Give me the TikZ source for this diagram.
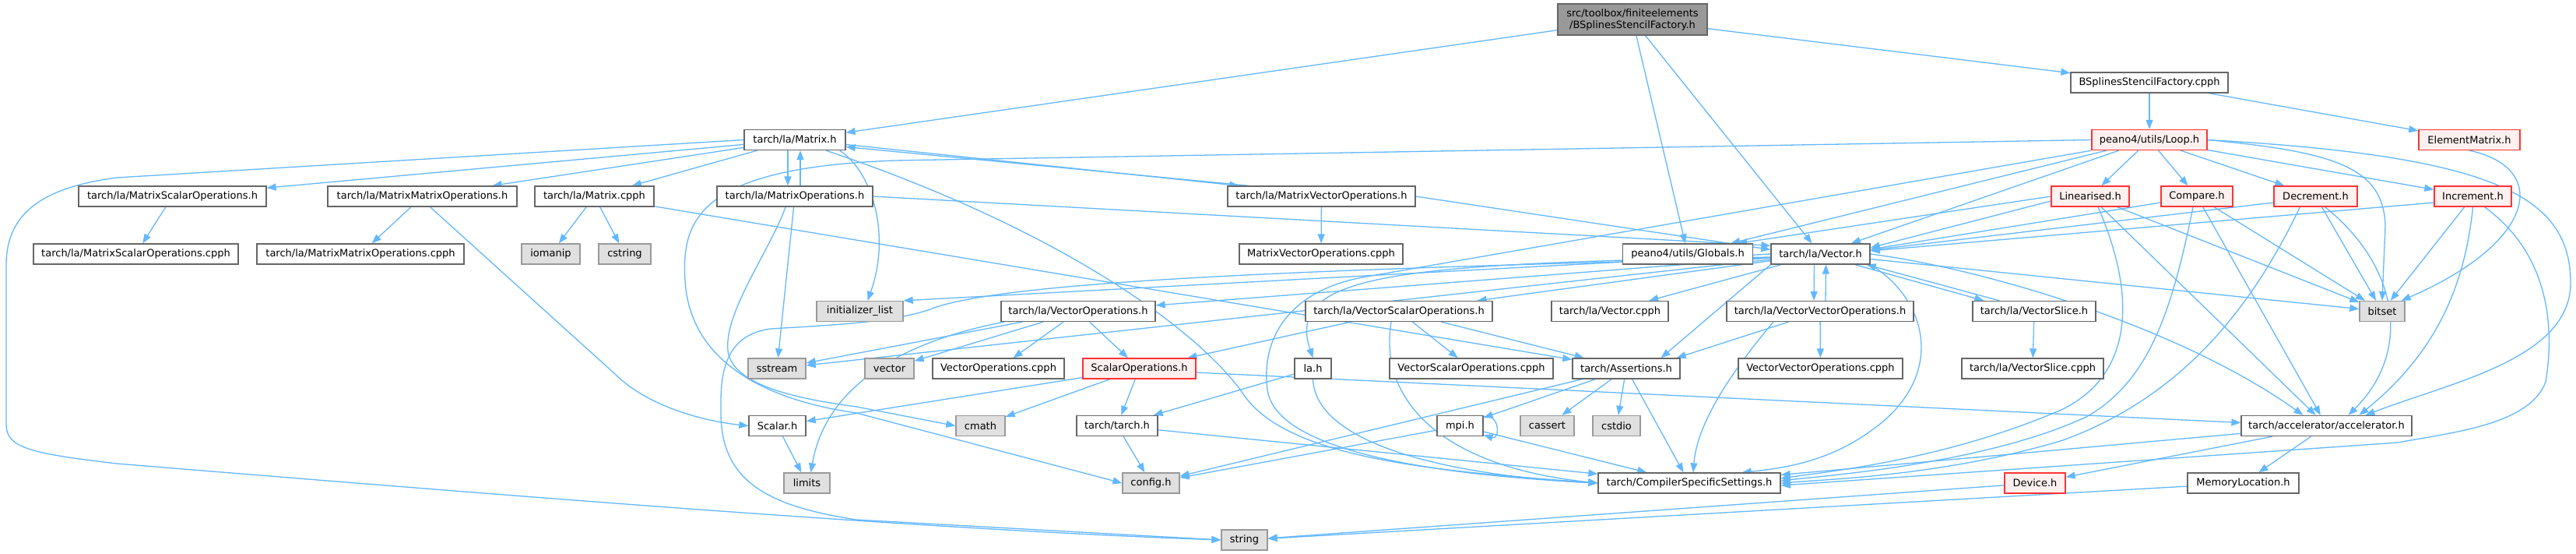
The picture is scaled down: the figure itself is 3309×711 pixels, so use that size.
\documentclass[tikz,border=0pt]{standalone}
\usepackage{fontspec}
\setmainfont{DejaVu Sans}
\usetikzlibrary{arrows.meta}

\definecolor{edgeblue}{HTML}{63B8FF}
\definecolor{boxline}{HTML}{666666}
\definecolor{sysline}{HTML}{999999}
\definecolor{sysfill}{HTML}{E0E0E0}
\definecolor{redline}{HTML}{FF3333}
\definecolor{redfill}{HTML}{FFF0F0}
\definecolor{rootfill}{HTML}{999999}

\pgfdeclarelayer{edges}
\pgfsetlayers{edges,main}

\tikzset{
  file/.style={draw=boxline, fill=white, line width=1.3pt, minimum height=26pt,
    inner xsep=0pt, inner ysep=2pt, font=\fontsize{13}{15}\selectfont},
  sys/.style={file, draw=sysline, fill=sysfill},
  trunc/.style={file, draw=redline, fill=redfill},
  root/.style={file, fill=rootfill, minimum height=40pt, align=center},
  dep/.style={draw=edgeblue, line width=1.3pt, -{Triangle[length=12pt,width=9pt]}}
}

\begin{document}
\begin{tikzpicture}[x=1pt,y=-1pt]
  \useasboundingbox (0,0) rectangle (3309,711);

  % files, row by row
  \node[root, minimum width=192pt] (bsf) at (2097,25) {src/toolbox/finiteelements\\/BSplinesStencilFactory.h};
  \node[file, minimum width=202pt] (bsfc) at (2761,106) {BSplinesStencilFactory.cpph};

  \node[file, minimum width=130pt] (matrix) at (1021,179.5) {tarch/la/Matrix.h};
  \node[trunc, minimum width=148pt] (loop) at (2761,179.5) {peano4/utils/Loop.h};
  \node[trunc, minimum width=130pt] (elem) at (3172,179.5) {ElementMatrix.h};

  \node[file, minimum width=241pt] (mso) at (221.5,252) {tarch/la/MatrixScalarOperations.h};
  \node[file, minimum width=243pt] (mmo) at (542.5,252) {tarch/la/MatrixMatrixOperations.h};
  \node[file, minimum width=153pt] (mcpph) at (763.5,252) {tarch/la/Matrix.cpph};
  \node[file, minimum width=200pt] (mo) at (1021,252) {tarch/la/MatrixOperations.h};
  \node[file, minimum width=241pt] (mvo) at (1697.5,252) {tarch/la/MatrixVectorOperations.h};
  \node[trunc, minimum width=100pt] (lin) at (2685,252) {Linearised.h};
  \node[trunc, minimum width=92pt] (cmp) at (2822,252) {Compare.h};
  \node[trunc, minimum width=107pt] (dec) at (2974.5,252) {Decrement.h};
  \node[trunc, minimum width=99pt] (inc) at (3176.5,252) {Increment.h};

  \node[file, minimum width=263pt] (msoc) at (174.5,326) {tarch/la/MatrixScalarOperations.cpph};
  \node[file, minimum width=266pt] (mmoc) at (463,326) {tarch/la/MatrixMatrixOperations.cpph};
  \node[sys, minimum width=75pt] (iomanip) at (707.5,326) {iomanip};
  \node[sys, minimum width=67pt] (cstring) at (802.5,326) {cstring};
  \node[file, minimum width=210pt] (mvoc) at (1697,326) {MatrixVectorOperations.cpph};
  \node[file, minimum width=167pt] (globals) at (2168,326) {peano4/utils/Globals.h};
  \node[file, minimum width=127pt] (vector) at (2338.5,326) {tarch/la/Vector.h};

  \node[sys, minimum width=111pt] (initlist) at (1104.5,399.5) {initializer\_list};
  \node[file, minimum width=198pt] (vo) at (1385,399.5) {tarch/la/VectorOperations.h};
  \node[file, minimum width=240pt] (vso) at (1797,399.5) {tarch/la/VectorScalarOperations.h};
  \node[file, minimum width=150pt] (vcpph) at (2068,399.5) {tarch/la/Vector.cpph};
  \node[file, minimum width=240pt] (vvo) at (2338,399.5) {tarch/la/VectorVectorOperations.h};
  \node[file, minimum width=158pt] (vslice) at (2613,399.5) {tarch/la/VectorSlice.h};
  \node[sys, minimum width=58pt] (bitset) at (3060,399.5) {bitset};

  \node[sys, minimum width=74pt] (sstream) at (998,473) {sstream};
  \node[sys, minimum width=63pt] (vec) at (1142.5,473) {vector};
  \node[file, minimum width=169pt] (voc) at (1282.5,473) {VectorOperations.cpph};
  \node[trunc, minimum width=145pt] (sops) at (1463.5,473) {ScalarOperations.h};
  \node[file, minimum width=47pt] (la) at (1686.5,473) {la.h};
  \node[file, minimum width=210pt] (vsoc) at (1890,473) {VectorScalarOperations.cpph};
  \node[file, minimum width=138pt] (assert) at (2089,473) {tarch/Assertions.h};
  \node[file, minimum width=211pt] (vvoc) at (2338.5,473) {VectorVectorOperations.cpph};
  \node[file, minimum width=182pt] (vslicec) at (2611,473) {tarch/la/VectorSlice.cpph};

  \node[file, minimum width=73pt] (scalar) at (998.5,546.5) {Scalar.h};
  \node[sys, minimum width=63pt] (cmath) at (1259.5,546.5) {cmath};
  \node[file, minimum width=104pt] (tarchh) at (1435,546.5) {tarch/tarch.h};
  \node[file, minimum width=59pt] (mpi) at (1875.5,546.5) {mpi.h};
  \node[sys, minimum width=69pt] (cassert) at (1987.5,546.5) {cassert};
  \node[sys, minimum width=61pt] (cstdio) at (2076.5,546.5) {cstdio};
  \node[file, minimum width=219pt] (accel) at (2988.5,546.5) {tarch/accelerator/accelerator.h};

  \node[sys, minimum width=59pt] (limits) at (1036.5,620) {limits};
  \node[sys, minimum width=73pt] (config) at (1478.5,620) {config.h};
  \node[file, minimum width=234pt] (css) at (2170,620) {tarch/CompilerSpecificSettings.h};
  \node[trunc, minimum width=78pt] (device) at (2614,620) {Device.h};
  \node[file, minimum width=143pt] (memloc) at (2881.5,620) {MemoryLocation.h};

  \node[sys, minimum width=59pt] (stringh) at (1598.5,693) {string};

  \begin{pgfonlayer}{edges}
  \fill[white] (0,0) rectangle (3309,711);
  % straight includes
  \foreach \a/\b in {bsf/matrix, bsf/bsfc, bsf/globals, bsf/vector, bsfc/loop, bsfc/elem,
      loop/globals, loop/vector, loop/lin, loop/cmp, loop/dec, loop/inc,
      lin/bitset, lin/accel, cmp/bitset, cmp/accel, dec/bitset, inc/bitset,
      matrix/mso, matrix/mmo, matrix/mcpph, mso/msoc, mmo/mmoc,
      mcpph/iomanip, mcpph/cstring, mcpph/assert,
      mo/sstream, mvo/mvoc,
      vector/vo, vector/vso, vector/vcpph, vector/bitset, vector/sstream,
      vo/sstream, vo/vec, vo/voc, vo/sops, vso/sops, vso/vsoc, vso/assert,
      vvo/vvoc, vslice/vslicec, sops/scalar, sops/cmath, sops/tarchh,
      scalar/limits, la/tarchh, tarchh/config, tarchh/css,
      assert/mpi, assert/cassert, assert/cstdio, assert/css, assert/config,
      mpi/config, mpi/css, accel/css, accel/device, accel/memloc,
      device/stringh, memloc/stringh}
    \draw[dep] (\a) -- (\b);

  % straight includes with shifted ends
  \draw[dep] (mo.east) -- ([yshift=-3pt]vector.north west);
  \draw[dep] (mvo.east) -- ([yshift=-8pt]vector.north west);
  \draw[dep] (lin.west) -- ([xshift=-20pt]globals.north east);
  \draw[dep] ([yshift=-6pt]lin.west) -- ([yshift=8pt]vector.east);
  \draw[dep] ([yshift=-8pt]cmp.west) -- ([yshift=6pt]vector.east);
  \draw[dep] ([yshift=-8pt]dec.west) -- ([yshift=5pt]vector.east);
  \draw[dep] ([yshift=-8pt]inc.west) -- ([yshift=4pt]vector.east);
  \draw[dep] (vector.west) -- (initlist.north east);
  \draw[dep] (vector.south west) -- ([xshift=-25pt]assert.north east);
  \draw[dep] ([xshift=80pt]vvo.south west) -- ([xshift=-5pt]assert.north east);
  \draw[dep] ([yshift=-5pt]sops.east) -- ([yshift=4pt]accel.west);

  % both ways
  \draw[dep] ([xshift=-9pt]matrix.south) -- ([xshift=-9pt]mo.north);
  \draw[dep] ([xshift=7pt]mo.north) -- ([xshift=7pt]matrix.south);
  \draw[dep] ([yshift=-6pt]matrix.east) -- ([xshift=15pt]mvo.north west);
  \draw[dep] ([xshift=28pt]mvo.north west) -- ([yshift=-9pt]matrix.east);
  \draw[dep] ([xshift=-8pt]vector.south) -- ([xshift=-8pt]vvo.north);
  \draw[dep] ([xshift=7pt]vvo.north) -- ([xshift=7pt]vector.south);
  \draw[dep] ([xshift=-20pt]vector.south east) -- ([xshift=15pt]vslice.north west);
  \draw[dep] ([xshift=35pt]vslice.north west) -- ([xshift=-5pt]vector.south east);
  \draw[dep] ([yshift=-2pt]mpi.north east) .. controls (1927,530) and (1927,565) .. ([yshift=2pt]mpi.south east);

  % long curves, left side
  \draw[dep] (matrix.west) -- (150,228) .. controls (60,240) and (8,270) .. (8,340) -- (8,545)
    .. controls (8,575) and (40,582) .. (150,595) .. controls (700,640) and (1200,680) .. (stringh.west);
  \draw[dep] ([xshift=-8pt]matrix.south east) .. controls (1120,220) and (1145,300) .. ([xshift=10pt]initlist.north);
  \draw[dep] ([xshift=40pt]matrix.south) .. controls (1350,290) and (1540,420) .. (1600,510)
    .. controls (1660,590) and (1850,605) .. (css.west);
  \draw[dep] ([xshift=-12pt]mo.south) .. controls (990,320) and (930,400) .. (935,450)
    .. controls (940,500) and (1050,515) .. (1100,522) -- (cmath.west);
  \draw[dep] ([xshift=10pt]mmo.south) -- (790,480) .. controls (830,520) and (900,540) .. (scalar.west);
  \draw[dep] ([xshift=5pt]vo.south west) .. controls (1150,440) and (1060,500) .. ([xshift=5pt]limits.north);
  \draw[dep] (loop.west) -- (1150,206) .. controls (900,215) and (875,280) .. (880,360)
    .. controls (885,450) and (960,510) .. (1100,530) -- (config.west);
  \draw[dep] ([yshift=-5pt]vector.west) .. controls (1700,345) and (1300,360) .. (1200,395)
    .. controls (1150,415) and (1050,418) .. (990,422) .. controls (930,430) and (925,480) .. (926,530)
    .. controls (926,620) and (990,650) .. (1100,667) -- (stringh.west);
  \draw[dep] ([yshift=-4pt]vector.west) .. controls (1800,338) and (1650,350) .. (la.north);

  % long curves into CompilerSpecificSettings.h
  \draw[dep] (loop.south west) -- (1750,356) .. controls (1650,375) and (1620,440) .. (1628,500)
    .. controls (1640,590) and (1900,612) .. (css.west);
  \draw[dep] ([xshift=-10pt]vso.south) .. controls (1770,520) and (1860,600) .. (css.west);
  \draw[dep] (la.south) .. controls (1690,570) and (1860,610) .. (css.west);
  \draw[dep] ([xshift=-60pt]vvo.south) .. controls (2230,470) and (2180,540) .. ([xshift=5pt]css.north);
  \draw[dep] (vector.south east) .. controls (2470,380) and (2500,470) .. (2420,540)
    .. controls (2360,590) and (2300,600) .. ([xshift=-50pt]css.north east);
  \draw[dep] ([xshift=10pt]lin.south) .. controls (2745,380) and (2740,480) .. (2650,525)
    .. controls (2500,590) and (2350,605) .. ([yshift=6pt]css.east);
  \draw[dep] ([xshift=-5pt]cmp.south) .. controls (2790,400) and (2760,490) .. (2680,535)
    .. controls (2550,595) and (2350,610) .. ([yshift=3pt]css.east);
  \draw[dep] ([xshift=-20pt]dec.south) .. controls (2890,400) and (2800,510) .. (2650,565)
    .. controls (2500,610) and (2350,615) .. (css.east);
  \draw[dep] ([xshift=15pt]inc.south) .. controls (3280,330) and (3280,430) .. (3270,490)
    .. controls (3250,545) and (3150,555) .. (3080,568) -- ([yshift=-3pt]css.east);

  % right side
  \draw[dep] (loop.east) .. controls (3000,195) and (3062,215) .. (3064,290) -- (bitset.north);
  \draw[dep] (elem.south) .. controls (3275,215) and (3260,310) .. ([xshift=-5pt]bitset.north east);
  \draw[dep] (loop.east) .. controls (3200,200) and (3300,250) .. (3302,360)
    .. controls (3305,460) and (3150,490) .. ([xshift=50pt]accel.north);
  \draw[dep] (inc.south) .. controls (3165,380) and (3120,460) .. ([xshift=42pt]accel.north);
  \draw[dep] ([xshift=12pt]dec.south) .. controls (3080,340) and (3100,450) .. ([xshift=28pt]accel.north);
  \draw[dep] (vector.east) .. controls (2550,345) and (2800,420) .. ([xshift=-30pt]accel.north);
  \end{pgfonlayer}
\end{tikzpicture}
\end{document}
